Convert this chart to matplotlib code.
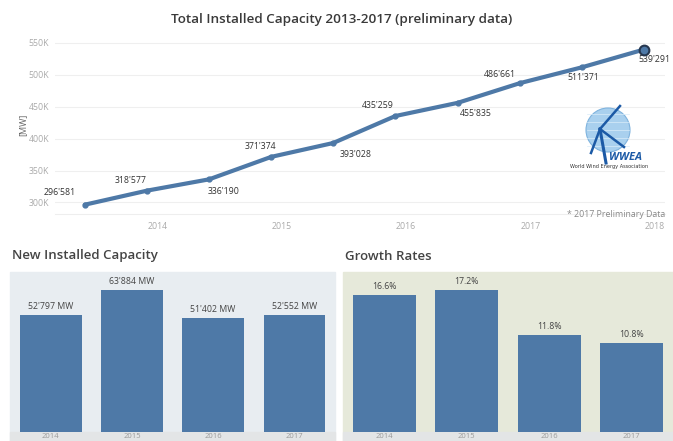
import pandas as pd
import matplotlib
matplotlib.use("Agg")
import matplotlib.pyplot as plt
import matplotlib.dates as mdates
from matplotlib.patches import Rectangle, Circle
from matplotlib.ticker import FuncFormatter

plt.rcParams['font.family'] = ['Open Sans', 'DejaVu Sans']

# data
periods = ["2013-06", "2013-12", "2014-06", "2014-12", "2015-06",
           "2015-12", "2016-06", "2016-12", "2017-06", "2017-12"]
total_capacity = [296581, 318577, 336190, 371374, 393028,
                  435259, 455835, 486661, 511371, 539291]
years = ["2014", "2015", "2016", "2017"]
new_capacity = [52797, 63884, 51402, 52552]
growth_rates = [16.6, 17.2, 11.8, 10.8]

BLUE = "#4e79a7"
W, H = 673, 441


def fx(px):
    return px / W


def fy(py):
    return 1 - py / H


def fmt_num(v):
    return f"{v:,}".replace(",", "'")


fig = plt.figure(figsize=(6.73, 4.41), dpi=100)
fig.patch.set_facecolor("white")

# ---- top line chart ----
ax = fig.add_axes([fx(55), fy(214), fx(610), 179 / H])
dates = pd.to_datetime(periods)
ax.plot(dates, total_capacity, color=BLUE, lw=3, marker="o", ms=3.5,
        solid_capstyle="round", zorder=3)
ax.plot(dates[-1:], total_capacity[-1:], "o", ms=7, mfc=BLUE, mec="#26374f",
        mew=1.5, zorder=4)

# label offsets in pixels (dx, dy)
offsets = [(-25, 12), (-17, 10), (15, -12), (-11, 10), (23, -11),
           (-18, 11), (18, -11), (-20, 9), (2, -10), (11, -10)]
for d, v, (dx, dy) in zip(dates, total_capacity, offsets):
    ax.annotate(fmt_num(v), (d, v), xytext=(dx * 0.72, dy * 0.72),
                textcoords="offset points", ha="center", va="center",
                fontsize=6.3, color="#333333")

ax.set_xlim(pd.Timestamp("2013-03-05"), pd.Timestamp("2018-02-01"))
ax.set_ylim(282000, 562000)
ax.set_yticks(range(300000, 550001, 50000))
ax.yaxis.set_major_formatter(FuncFormatter(lambda v, p: f"{int(v / 1000)}K"))
ax.xaxis.set_major_locator(mdates.YearLocator())
ax.xaxis.set_major_formatter(mdates.DateFormatter("%Y"))
ax.tick_params(axis="both", length=0, labelsize=6.3, labelcolor="#aaaaaa")
ax.tick_params(axis="x", pad=6)
ax.tick_params(axis="y", pad=4)
ax.grid(axis="y", color="#efefef", lw=0.8)
for s in ["top", "right", "left"]:
    ax.spines[s].set_visible(False)
ax.spines["bottom"].set_color("#eeeeee")
ax.set_ylabel("[MW]", fontsize=6.5, color="#666666", labelpad=1)

fig.text(fx(342), fy(20), "Total Installed Capacity 2013-2017 (preliminary data)",
         ha="center", va="center", fontsize=9.7, fontweight="semibold",
         color="#3a3a3a")
fig.text(fx(665), fy(215), "* 2017 Preliminary Data", ha="right", va="center",
         fontsize=6.3, color="#888888")

# WWEA logo
lg = fig.add_axes([fx(570), fy(175), fx(76), 76 / H])
lg.set_xlim(0, 76)
lg.set_ylim(0, 76)
lg.axis("off")
lg.add_patch(Circle((38, 45), 22, color="#a9d0ee", ec="#7fb3de", lw=0.8))
for k in range(-2, 3):
    lg.plot([17, 59], [45 + k * 8, 45 + k * 8], color="#d9ecf9", lw=0.5)
lg.plot([30, 36], [46, 12], color="#1c5aa6", lw=2.2)
lg.plot([30, 50], [46, 69], color="#1c5aa6", lw=1.8)
lg.plot([30, 21], [46, 22], color="#1c5aa6", lw=1.8)
lg.plot([30, 54], [46, 28], color="#1c5aa6", lw=1.8)
lg.text(56, 17, "WWEA", ha="center", va="center", fontsize=8,
        fontweight="bold", style="italic", color="#1c5aa6")
lg.text(39, 8, "World Wind Energy Association", ha="center", va="center",
        fontsize=3.6, color="#333333", family="Liberation Sans Narrow")

# ---- bottom panels ----
panels = [
    (10, 325, "New Installed Capacity", new_capacity, "#e8edf1", 72000,
     lambda v: f"{fmt_num(v)} MW"),
    (343, 330, "Growth Rates", growth_rates, "#e6e9da", 19.4,
     lambda v: f"{v:.1f}%"),
]
for left, width, title, vals, bg, ytop, lab in panels:
    fig.patches.append(Rectangle((fx(left), 0), fx(width), fy(272),
                                 transform=fig.transFigure, color=bg,
                                 zorder=-2))
    fig.patches.append(Rectangle((fx(left), 0), fx(width), 9 / H,
                                 transform=fig.transFigure, color="#e3e5e6",
                                 zorder=-1))
    bx = fig.add_axes([fx(left), fy(432), fx(width), 160 / H])
    bx.patch.set_alpha(0)
    xs = range(len(vals))
    bx.bar(xs, vals, width=0.76, color=BLUE)
    for x, v in zip(xs, vals):
        bx.annotate(lab(v), (x, v), xytext=(0, 3), textcoords="offset points",
                    ha="center", va="bottom", fontsize=6.3, color="#444444")
    bx.set_xlim(-0.5, len(vals) - 0.5)
    bx.set_ylim(0, ytop)
    bx.set_yticks([])
    bx.set_xticks(list(xs))
    bx.set_xticklabels(years)
    bx.tick_params(axis="x", length=0, labelsize=5.5, labelcolor="#999999",
                   pad=0.5)
    for s in bx.spines.values():
        s.set_visible(False)
    fig.text(fx(left + 2), fy(256), title, ha="left", va="center",
             fontsize=9.5, fontweight="semibold", color="#444444")

fig.savefig("out.png", dpi=100)
